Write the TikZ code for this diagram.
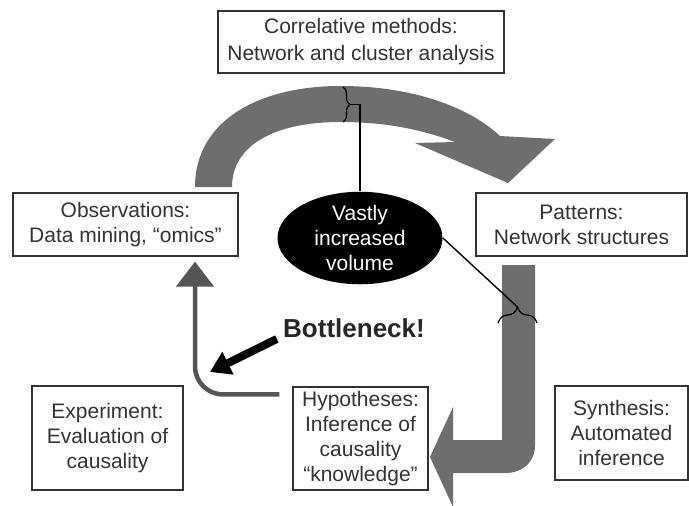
\documentclass[tikz,border=0pt]{standalone}
\usepackage{fontspec}
\setmainfont{Liberation Sans}
\usetikzlibrary{arrows.meta,calc,shapes.geometric,decorations.pathreplacing}
\definecolor{flowgray}{HTML}{6E6E6E}
\definecolor{loopgray}{HTML}{555555}
\definecolor{textgray}{HTML}{333333}

\begin{document}
\begin{tikzpicture}[x=0.5pt, y=-0.5pt, >=Latex, font=\fontsize{10.5}{12.5}\selectfont,
  box/.style={draw=textgray, line width=0.6pt, text=textgray, align=center, inner sep=0pt},
  curly/.style={decorate, decoration={brace, amplitude=#1}, line width=0.6pt}]
  \useasboundingbox (0,0) rectangle (689,505);

  % broad flows
  \fill[flowgray] (195,187) .. controls (195,120) and (260,86) .. (340,86)
    .. controls (415,86) and (470,108) .. (500,136) -- (555,139) -- (508,183)
    -- (415,143) -- (455,142) .. controls (420,129) and (385,122) .. (340,122)
    .. controls (275,122) and (232,145) .. (232,187) -- cycle;
  \fill[flowgray] (502,265) -- (535,265) -- (535,445)
    .. controls (535,462) and (523,473) .. (505,473) -- (453,473) -- (453,507)
    -- (430,457) -- (453,407) -- (453,440) -- (502,440) -- cycle;

  \node[box, minimum width=143pt, minimum height=31pt, font=\fontsize{10.5}{13.5}\selectfont] (corr) at (361,42) {Correlative methods:\\Network and cluster analysis};
  \node[box, minimum width=112.5pt, minimum height=31.5pt] (obs) at (125.5,224.5) {Observations:\\Data mining, “omics”};
  \node[box, minimum width=105.5pt, minimum height=31.5pt] (patt) at (581.5,224.5) {Patterns:\\Network structures};
  \node[box, minimum width=75.5pt, minimum height=52pt] (expt) at (107.5,438) {Experiment:\\Evaluation of\\causality};
  \node[box, minimum width=67.5pt, minimum height=51.5pt] (hyp) at (360.5,438.5) {Hypotheses:\\Inference of\\causality\\“knowledge”};
  \node[box, minimum width=66.5pt, minimum height=47pt] (synth) at (621.5,433) {Synthesis:\\Automated\\inference};

  \node[ellipse, fill=black, text=white, align=center, inner sep=0pt,
        minimum width=82.5pt, minimum height=44pt] (vol) at (360,238) {Vastly\\increased\\volume};

  \node[inner sep=0pt, text=black!85, font=\fontsize{13}{15}\selectfont\bfseries] (bneck) at (354,328) {Bottleneck!};

  % braces and leader lines
  \draw[curly=3.5pt] (343,87) -- (343,122);
  \coordinate (topbrace) at (350,104.5);
  \draw[line width=0.7pt] (topbrace) -| (vol.north);

  \draw[curly=8pt] (498,323) -- (537,323);
  \coordinate (rbrace) at (517.5,307);
  \draw[line width=0.7pt] (vol.east) -- (rbrace);

  % loop back to observations
  \draw[loopgray, line width=2.25pt, rounded corners=14pt, -{Triangle[width=18.5pt,length=12.5pt]}]
    ($(hyp.north west)+(-13,8)$) -| ($(obs.south)+(69.5,5)$);

  \coordinate (bntip) at (210,372);
  \draw[line width=4pt, -{Triangle[width=12pt,length=10pt]}] ($(bneck.south west)+(-6,1)$) -- (bntip);
\end{tikzpicture}
\end{document}
